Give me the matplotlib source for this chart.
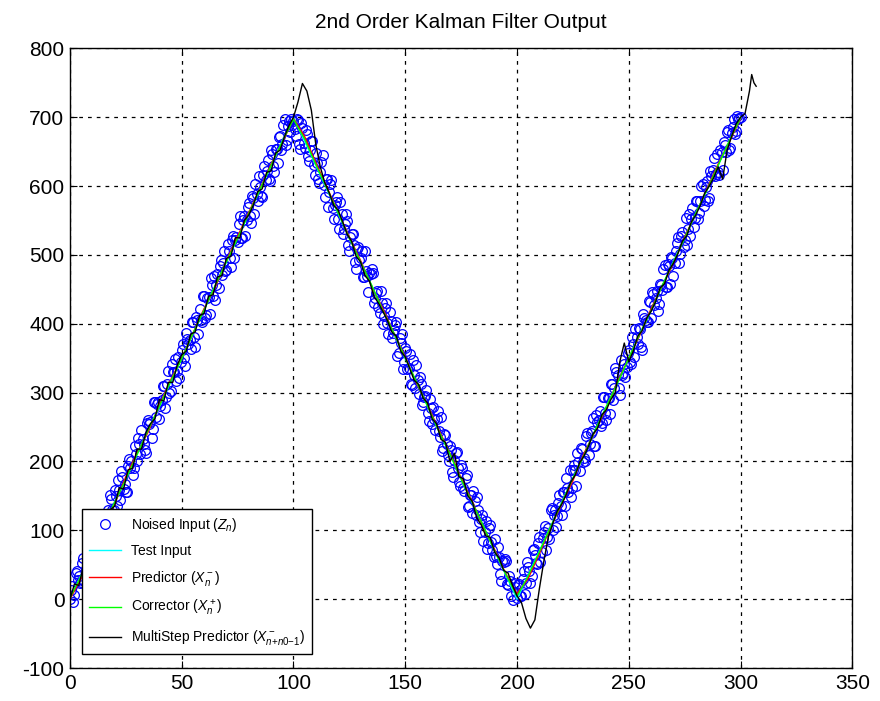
import numpy as np
import matplotlib
matplotlib.use("Agg")
import matplotlib.pyplot as plt

plt.rcParams['font.family'] = ['Liberation Sans', 'DejaVu Sans']
plt.rcParams['mathtext.fontset'] = 'custom'
plt.rcParams['mathtext.rm'] = 'Liberation Sans'
plt.rcParams['mathtext.it'] = 'Liberation Sans:italic'
plt.rcParams['axes.unicode_minus'] = False

# noisy measurements at whole steps n = 0..300
z_n = np.arange(301)
z = [0, 19, 6, 41, 33, 25, 60, 44, 81, 48,
     65, 99, 87, 73, 113, 113, 90, 129, 151, 130,
     158, 135, 159, 186, 160, 155, 194, 191, 181, 223,
     200, 225, 246, 226, 213, 260, 257, 247, 286, 283,
     262, 290, 309, 293, 331, 303, 330, 349, 331, 321,
     362, 351, 386, 371, 363, 403, 367, 405, 421, 403,
     440, 413, 439, 466, 440, 435, 472, 484, 471, 505,
     478, 505, 482, 527, 522, 519, 556, 524, 556, 551,
     575, 547, 582, 603, 578, 598, 584, 629, 622, 611,
     652, 629, 654, 633, 673, 661, 697, 667, 694, 698,
     695, 673, 696, 654, 684, 655, 676, 636, 666, 631,
     648, 611, 621, 645, 584, 610, 591, 609, 552, 577,
     552, 577, 531, 545, 550, 505, 530, 515, 479, 512,
     495, 468, 506, 469, 474, 480, 430, 444, 424, 447,
     400, 423, 401, 417, 380, 391, 402, 357, 372, 335,
     365, 335, 356, 311, 326, 340, 298, 313, 286, 295,
     270, 291, 255, 261, 261, 244, 264, 220, 238, 209,
     222, 185, 202, 214, 170, 195, 162, 176, 134, 152,
     125, 143, 148, 112, 116, 85, 114, 81, 108, 72,
     88, 51, 62, 27, 54, 55, 20, 26, -1, 17,
     2, 22, 4, 41, 23, 47, 24, 71, 64, 51,
     90, 69, 98, 71, 104, 130, 100, 129, 121, 151,
     122, 155, 176, 155, 148, 187, 187, 213, 186, 218,
     205, 237, 209, 241, 263, 223, 258, 274, 256, 293,
     260, 292, 312, 289, 336, 325, 297, 326, 341, 337,
     362, 342, 370, 393, 370, 393, 362, 409, 402, 433,
     408, 443, 438, 419, 458, 449, 486, 454, 484, 497,
     470, 505, 526, 501, 533, 522, 514, 559, 552, 541,
     578, 552, 579, 603, 580, 607, 582, 615, 641, 618,
     620, 652, 624, 659, 678, 653, 677, 697, 680, 697,
     700]

# noisy measurements at half steps n = 0.5..299.5
zh_n = np.arange(300) + 0.5
zh = [14, -4, 38, 28, 24, 53, 26, 59, 56, 85,
      62, 86, 112, 89, 84, 119, 118, 101, 146, 129,
      150, 173, 144, 177, 168, 155, 204, 201, 190, 211,
      234, 211, 232, 217, 256, 255, 234, 287, 264, 287,
      280, 309, 278, 313, 300, 341, 330, 317, 352, 345,
      370, 339, 378, 377, 402, 381, 410, 385, 406, 441,
      408, 437, 414, 457, 470, 457, 452, 493, 488, 477,
      516, 495, 522, 495, 526, 545, 524, 551, 528, 569,
      556, 585, 560, 589, 614, 585, 616, 609, 638, 607,
      646, 621, 654, 671, 652, 689, 660, 687, 678, 689,
      683, 698, 661, 692, 663, 682, 643, 652, 665, 616,
      633, 604, 635, 602, 611, 570, 603, 568, 573, 584,
      537, 560, 537, 560, 515, 526, 531, 490, 509, 492,
      505, 468, 477, 446, 473, 474, 437, 448, 415, 430,
      411, 430, 385, 404, 387, 398, 353, 380, 385, 344,
      361, 336, 313, 348, 307, 318, 323, 282, 293, 304,
      259, 278, 279, 246, 273, 236, 215, 240, 225, 200,
      217, 178, 213, 190, 165, 190, 157, 180, 135, 152,
      157, 122, 129, 98, 123, 98, 73, 104, 83, 62,
      63, 76, 37, 56, 59, 22, 33, 4, 23, 10,
      20, 5, 30, 7, 54, 41, 34, 73, 52, 81,
      54, 89, 106, 91, 88, 133, 122, 105, 140, 135,
      156, 135, 162, 187, 162, 195, 164, 199, 220, 199,
      200, 241, 226, 245, 222, 267, 260, 251, 294, 271,
      292, 269, 312, 307, 330, 307, 348, 329, 322, 357,
      344, 381, 352, 381, 394, 367, 414, 405, 402, 431,
      446, 427, 448, 429, 456, 479, 454, 487, 458, 495,
      488, 517, 488, 527, 512, 553, 538, 527, 568, 553,
      578, 561, 600, 571, 598, 579, 622, 623, 614, 647,
      616, 649, 664, 649, 682, 655, 686, 675, 702, 699]

# clean test input (triangle corners)
test_x = [0, 100, 200, 300]
test_y = [0, 700, 0, 700]

# predictor / corrector read every 5 steps
pc_x = np.arange(0, 301, 5)
pred = [0, 30, 72, 108, 138, 178, 212, 243, 282, 318, 350, 386, 422, 453, 492, 527,
        562, 596, 632, 663, 698, 672, 634, 598, 562, 526, 492, 454, 422, 386, 352,
        314, 282, 246, 212, 176, 142, 104, 72, 37, 8, 30, 66, 104, 138, 172, 212,
        244, 278, 316, 350, 384, 422, 455, 488, 526, 560, 596, 632, 664, 698]
corr = [2, 34, 70, 106, 141, 174, 210, 246, 280, 316, 349, 386, 420, 456, 490, 524,
        560, 595, 630, 665, 697, 668, 631, 596, 561, 524, 490, 456, 419, 386, 350,
        316, 280, 244, 211, 174, 140, 106, 70, 36, 4, 34, 69, 105, 140, 176, 209,
        246, 280, 314, 350, 386, 419, 456, 490, 524, 561, 594, 630, 666, 699]

# multistep predictor, every 2 steps then a short tail past 300
ms_x = np.concatenate([np.arange(0, 301, 2), [302, 304, 305, 306, 307]])
ms_y = [0, 22, 20, 48, 50, 78, 76, 105, 102, 130, 135, 162, 160, 188, 190, 218,
        218, 242, 255, 262, 290, 288, 315, 315, 340, 355, 360, 385, 388, 412, 415,
        440, 442, 468, 470, 495, 498, 525, 525, 550, 558, 572, 592, 596, 620, 622,
        648, 652, 672, 688, 700,
        722, 749, 738, 710, 660, 628, 605, 590, 572, 565, 548, 530, 520, 498, 490,
        470, 462, 440, 430, 418, 405, 388, 382, 360, 352, 335, 318, 312, 292, 285,
        262, 255, 232, 228, 200, 212, 178, 175, 150, 142, 118, 108, 92, 90, 68,
        60, 42, 38, 20, 5,
        -5, -28, -42, -30, 15, 55, 90, 110, 128, 138, 152, 170, 180, 198, 208,
        222, 240, 248, 268, 275, 290, 300, 345, 372, 345, 360, 382, 390, 408, 418,
        432, 452, 458, 478, 488, 502, 520, 528, 548, 558, 572, 590, 600, 612, 628,
        610, 652, 672, 690, 700,
        705, 738, 762, 750, 745]

fig = plt.figure(figsize=(8.8, 7.01), dpi=100)
ax = fig.add_axes([0.0795, 0.047, 0.889, 0.884])

circ = dict(ls='none', marker='o', mfc='none', mec='blue', ms=7, mew=0.9)
ax.plot(z_n, z, label=r'Noised Input ($Z_n$)', **circ)
ax.plot(zh_n, zh, **circ)
ax.plot(test_x, test_y, color='cyan', lw=1, label='Test Input')
ax.plot(pc_x, pred, color='red', lw=1, label=r'Predictor ($X^-_n$)')
ax.plot(pc_x, corr, color='lime', lw=1, label=r'Corrector ($X^+_n$)')
ax.plot(ms_x, ms_y, color='black', lw=1, label=r'MultiStep Predictor ($X^-_{n{+}n0{-}1}$)')

ax.set_xlim(0, 350)
ax.set_ylim(-100, 800)
ax.set_xticks(np.arange(0, 351, 50))
ax.set_yticks(np.arange(-100, 801, 100))
ax.grid(True, color='black', linestyle=(0, (3, 4)), linewidth=0.9)
ax.tick_params(direction='in', top=True, right=True, length=5, labelsize=15, pad=4)
for s in ax.spines.values():
    s.set_linewidth(1)
ax.set_title('2nd Order Kalman Filter Output', fontsize=15, pad=15)

leg = ax.legend(loc='lower left', bbox_to_anchor=(0.016, 0.022), borderaxespad=0,
                fontsize=10, fancybox=False, edgecolor='black', framealpha=1,
                handlelength=2.3, handletextpad=0.7, labelspacing=0.75, borderpad=0.5)
leg.get_frame().set_linewidth(1)

fig.savefig('out.png', dpi=100)
